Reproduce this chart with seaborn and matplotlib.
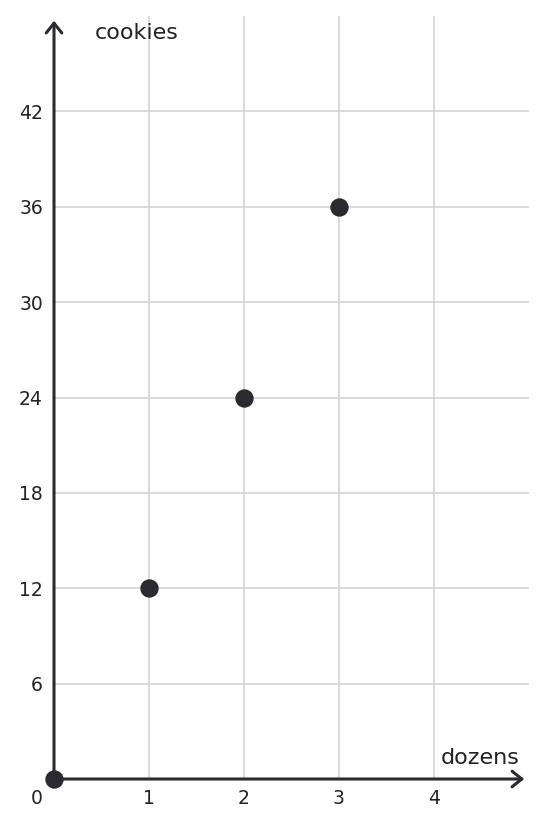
import matplotlib
matplotlib.use("Agg")
import matplotlib.pyplot as plt
import seaborn as sns
import pandas as pd

dozens = [0, 1, 2, 3]
cookies = [0, 12, 24, 36]
x_ticks = [1, 2, 3, 4]
y_ticks = [6, 12, 18, 24, 30, 36, 42]

sns.set_style("white")
plt.rcParams['font.family'] = ['DejaVu Sans']

fig = plt.figure(figsize=(5.48, 8.27), dpi=100)
ax = fig.add_axes([54/548, 48/827, 475/548, 763/827])

df = pd.DataFrame({"dozens": dozens, "cookies": cookies})
dark = "#2a2a30"
sns.scatterplot(data=df, x="dozens", y="cookies", ax=ax, s=175, color=dark,
                edgecolor=dark, linewidth=0, zorder=5, clip_on=False)

ax.set_xlim(0, 5)
ax.set_ylim(0, 48)
ax.set_xticks(x_ticks)
ax.set_yticks(y_ticks)
ax.grid(True, color="#d4d4d4", linewidth=1.2)
ax.set_axisbelow(True)
for s in ax.spines.values():
    s.set_visible(False)
ax.tick_params(axis="both", direction="in", length=4, width=1.5, color=dark,
               labelsize=13.5, labelcolor="#222222", pad=7)
ax.tick_params(axis="y", pad=8)
ax.set_xlabel("")
ax.set_ylabel("")

astyle = "->,head_length=0.5,head_width=0.4"
ax.annotate("", xy=(4.95, 0), xytext=(0, 0),
            arrowprops=dict(arrowstyle=astyle, color=dark, lw=2.2,
                            mutation_scale=14, shrinkA=0, shrinkB=0), annotation_clip=False)
ax.annotate("", xy=(0, 47.7), xytext=(0, 0),
            arrowprops=dict(arrowstyle=astyle, color=dark, lw=2.2,
                            mutation_scale=14, shrinkA=0, shrinkB=0), annotation_clip=False)

ax.text(0.43, 46.9, "cookies", fontsize=16, color="#222222", va="center", ha="left")
ax.text(4.9, 1.3, "dozens", fontsize=16, color="#222222", va="center", ha="right")
ax.text(-0.18, -0.65, "0", fontsize=13.5, color="#222222", va="top", ha="center")

fig.savefig("out.png", dpi=100)
